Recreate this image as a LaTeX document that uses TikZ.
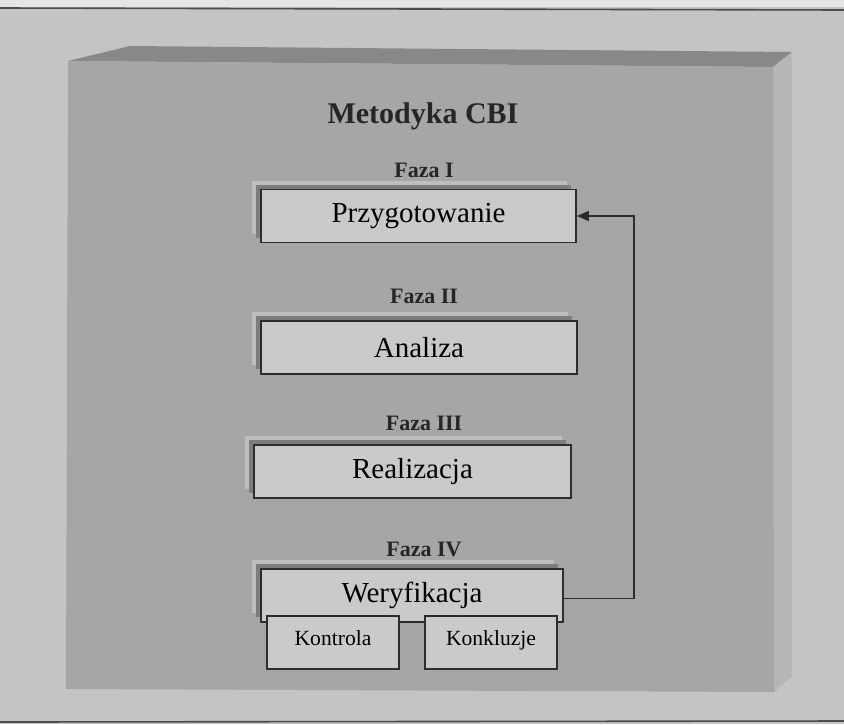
\documentclass[tikz,border=0pt]{standalone}
\usepackage{fontspec}
\setmainfont{Liberation Serif}
\usepackage{xcolor}
\usepackage{tikz}
\usetikzlibrary{arrows.meta, positioning, shadows, calc}
\definecolor{pagegray}{RGB}{196,196,196}
\definecolor{frontgray}{RGB}{166,166,166}
\definecolor{topgray}{RGB}{136,136,136}
\definecolor{sidegray}{RGB}{182,182,182}
\definecolor{boxgray}{RGB}{202,202,202}
\definecolor{edgegray}{RGB}{45,45,45}
\definecolor{nearshadow}{RGB}{125,125,125}
\definecolor{farshadow}{RGB}{190,190,190}
\tikzset{
  phasebox/.style={
    draw=edgegray, line width=0.8pt, fill=boxgray, align=center,
    minimum height=26.5pt, inner sep=0pt,
    font=\fontsize{14.5}{17}\selectfont,
    general shadow={fill=farshadow, shadow xshift=-4.5pt, shadow yshift=4.5pt},
    general shadow={fill=nearshadow, shadow xshift=-2.5pt, shadow yshift=2.5pt}
  },
  subbox/.style={
    draw=edgegray, line width=0.8pt, fill=boxgray, align=center,
    minimum height=26.5pt, minimum width=66pt, inner sep=0pt,
    text depth=5pt, font=\fontsize{10.8}{13}\selectfont
  },
  phaselabel/.style={
    font=\bfseries\fontsize{11}{13}\selectfont, text=black!85
  },
  titlelabel/.style={
    font=\bfseries\fontsize{15}{18}\selectfont, text=black!85
  },
  loopback/.style={
    -{Triangle[length=6pt, width=5pt]}, line width=0.8pt, draw=edgegray
  },
}

\begin{document}
\begin{tikzpicture}[x=0.5pt, y=-0.5pt]
  \useasboundingbox (0,0) rectangle (844,724);
  % Page
  \fill[pagegray] (0,0) rectangle (844,724);
  \fill[gray!20] (0,0) rectangle (844,7);
  \draw[gray!60!black, line width=0.8pt] (0,8) -- (844,10);
  \draw[gray!60!black, line width=0.8pt] (0,722) -- (844,721);

  % Block
  \fill[topgray] (68,61) -- (130,46) -- (792,52) -- (773,67) -- cycle;
  \fill[sidegray] (773,67) -- (792,52) -- (792,676) -- (774,692) -- cycle;
  \fill[frontgray] (68,61) -- (773,67) -- (774,692) -- (66,689) -- cycle;

  % Title
  \node[titlelabel] (title) at (423,116) {Metodyka CBI};

  % Phases
  \node[phaselabel] (lblI) at (424,170) {Faza I};
  \node[phasebox, minimum width=157.5pt] (prep) at (418.5,216) {Przygotowanie};

  \node[phaselabel] (lblII) at (424,296) {Faza II};
  \node[phasebox, minimum width=158pt] (anal) at (419,347.5) {Analiza};

  \node[phaselabel] (lblIII) at (424,423) {Faza III};
  \node[phasebox, minimum width=158.5pt] (real) at (412.5,471.5) {Realizacja};

  \node[phaselabel] (lblIV) at (424,549) {Faza IV};
  \node[phasebox, minimum width=151pt] (weryf) at (412,595.5) {Weryfikacja};

  % Sub-steps of Faza IV
  \node[subbox] (ctrl) at (333,642.5) {Kontrola};
  \node[subbox] (concl) at (491,642.5) {Konkluzje};

  % Feedback loop
  \draw[loopback] ([yshift=-1.5pt]weryf.east) -| ([xshift=28.5pt]prep.east) -- (prep.east);
\end{tikzpicture}
\end{document}
